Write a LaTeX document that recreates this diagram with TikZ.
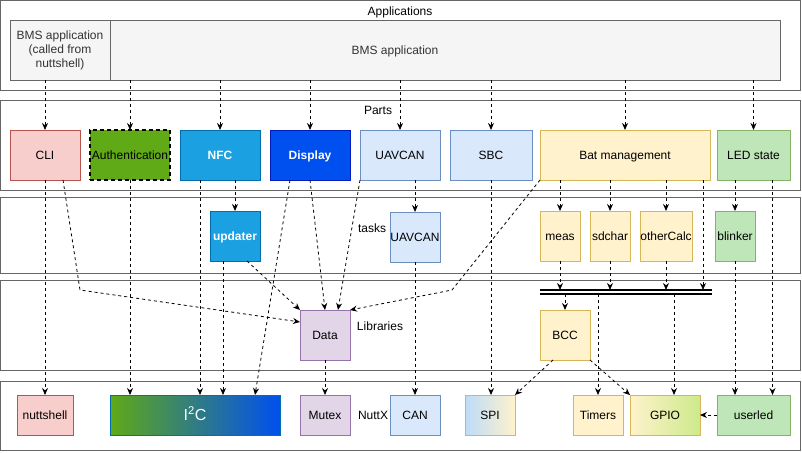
\documentclass[tikz,border=0pt]{standalone}
\usepackage{fontspec}
\setmainfont{Liberation Sans}
\usetikzlibrary{arrows.meta,
positioning,
shapes}

\definecolor{layerd}{HTML}{666666}
\definecolor{grayf}{HTML}{F5F5F5}
\definecolor{grayt}{HTML}{333333}
\definecolor{redf}{HTML}{F8CECC}
\definecolor{redd}{HTML}{B85450}
\definecolor{authf}{HTML}{60A917}
\definecolor{nfcf}{HTML}{1BA1E2}
\definecolor{nfcd}{HTML}{006EAF}
\definecolor{dispf}{HTML}{0050EF}
\definecolor{dispd}{HTML}{001DBC}
\definecolor{bluef}{HTML}{DAE8FC}
\definecolor{blued}{HTML}{6C8EBF}
\definecolor{yelf}{HTML}{FFF2CC}
\definecolor{yeld}{HTML}{D6B656}
\definecolor{grnf}{HTML}{BFE6B8}
\definecolor{grnd}{HTML}{82B366}
\definecolor{purf}{HTML}{E1D5E7}
\definecolor{purd}{HTML}{9673A6}
\definecolor{spif}{HTML}{BDDCF8}
\definecolor{gpiof}{HTML}{CDEA8A}

\begin{document}
\begin{tikzpicture}[
				x=1pt, y=-1pt,
				every node/.style={font=\fontsize{12}{14}\selectfont, inner sep=0pt, outer sep=0pt, text height=10pt, text depth=1.4pt},
				layer/.style={draw=layerd, line width=0.8pt},
				box/.style={draw, line width=0.8pt, minimum width=50pt, minimum height=50pt, align=center},
				graybox/.style={box, draw=layerd, fill=grayf, text=grayt, minimum height=60pt, text height=, text depth=},
				redbox/.style={box, draw=redd, fill=redf},
				authbox/.style={box, draw=black, fill=authf, line width=2pt, dash pattern=on 4pt off 3pt},
				nfcbox/.style={box, draw=nfcd, fill=nfcf, text=white, font=\fontsize{12}{14}\selectfont\bfseries},
				dispbox/.style={box, draw=dispd, fill=dispf, text=white, font=\fontsize{12}{14}\selectfont\bfseries},
				bluebox/.style={box, draw=blued, fill=bluef},
				yelbox/.style={box, draw=yeld, fill=yelf},
				grnbox/.style={box, draw=grnd, fill=grnf},
				purbox/.style={box, draw=purd, fill=purf},
				link/.style={-{Stealth[length=7pt,width=6pt]}, dash pattern=on 3pt off 3pt, line width=0.8pt}
			]
				\useasboundingbox (0,0) rectangle (802,452);
				\draw[layer] (0,0) rectangle (800,90);
				\draw[layer] (0,100) rectangle (800,190);
				\draw[layer] (0,197) rectangle (800,273);
				\draw[layer] (0,280) rectangle (800,370);
				\draw[layer] (0,381) rectangle (800,450);
				\node [] (applbl) at (400,11) {Applications};
				\node [] (partslbl) at (378,110) {Parts};
				\node [] (taskslbl) at (372,228) {tasks};
				\node [] (libslbl) at (380,326) {Libraries};
				\node [] (nuttxlbl) at (373,415) {NuttX};
				\node [graybox, minimum width=100pt] (appnsh) at (60,50) {BMS application\\(called from\\nuttshell)};
				\node [graybox, minimum width=670pt, label={[text=grayt, xshift=-50pt]center:BMS application}] (app) at (445,50) {};
				\node [redbox, minimum width=70pt] (cli) at (45,155) {CLI};
				\node [authbox, minimum width=80pt, right=10pt of cli] (auth) {Authentication};
				\node [nfcbox, minimum width=80pt, right=10pt of auth] (nfc) {NFC};
				\node [dispbox, minimum width=80pt, right=10pt of nfc] (disp) {Display};
				\node [bluebox, minimum width=80pt, right=10pt of disp] (uavcan) {UAVCAN};
				\node [bluebox, minimum width=82pt, right=10pt of uavcan] (sbc) {SBC};
				\node [yelbox, minimum width=170pt, right=8pt of sbc] (bat) {Bat management};
				\node [grnbox, minimum width=73pt, right=7pt of bat] (led) {LED state};
				\node [nfcbox] (updater) at (235,236) {updater};
				\node [bluebox] (uavcant) at (415,237) {UAVCAN};
				\node [yelbox, minimum width=40pt] (meas) at (560,236) {meas};
				\node [yelbox, minimum width=40pt, right=10pt of meas] (sdchar) {sdchar};
				\node [yelbox, minimum width=52pt, right=10pt of sdchar] (other) {otherCalc};
				\node [grnbox, minimum width=40pt, right=23pt of other] (blinker) {blinker};
				\node [purbox] (data) at (325,335) {Data};
				\node [yelbox] (bcc) at (565,335) {BCC};
				\node [minimum width=172pt, minimum height=4pt, text height=, text depth=] (bus) at (626,292) {};
				\draw[line width=1.2pt] (bus.north west) -- (bus.north east) (bus.south west) -- (bus.south east);
				\node [redbox, minimum width=56pt, minimum height=40pt] (nsh) at (45,415) {nuttshell};
				\node [box, draw=nfcd, left color=authf, right color=dispf, text=white, minimum width=170pt, minimum height=40pt, font=\fontsize{16}{18}\selectfont, text height=13pt, text depth=1.5pt] (i2c) at (195,415) {I\textsuperscript{2}C};
				\node [purbox, minimum height=40pt] (mutex) at (325,415) {Mutex};
				\node [bluebox, minimum height=40pt] (can) at (415,415) {CAN};
				\node [box, draw=yeld, left color=spif, right color=yelf, minimum height=40pt] (spi) at (490,415) {SPI};
				\node [yelbox, minimum height=40pt] (timers) at (598,415) {Timers};
				\node [box, draw=yeld, left color=yelf, right color=gpiof, minimum width=70pt, minimum height=40pt, right=7pt of timers] (gpio) {GPIO};
				\node [grnbox, minimum width=73pt, minimum height=40pt, right=17pt of gpio] (userled) {userled};
				\path[link]
					(appnsh.south -| cli.north) edge (cli.north);
				\foreach \n in {auth,nfc,disp,uavcan,sbc,bat,led}
					\path[link] (app.south -| \n.north) edge (\n.north);
				\path[link]
					(nfc.south -| updater.north) edge (updater.north)
					(uavcan.south -| uavcant.north) edge (uavcant.north)
					(bat.south -| meas.north) edge (meas.north)
					(bat.south -| sdchar.north) edge (sdchar.north)
					(bat.south -| other.north) edge (other.north)
					(led.south -| blinker.north) edge (blinker.north);
				\path[link]
					(meas.south) edge (meas.south |- bus.north)
					(sdchar.south) edge (sdchar.south |- bus.north)
					(other.south) edge (other.south |- bus.north)
					([xshift=-7pt]bat.south east) edge ([xshift=-7pt]bat.south east |- bus.north)
					(bus.south -| bcc.north) edge (bcc.north)
					(bus.south -| timers.north) edge (timers.north)
					([xshift=9pt]bus.south -| gpio.north) edge ([xshift=9pt]gpio.north);
				\path[link]
					(cli.south) edge (nsh.north)
					(auth.south) edge (auth.south |- i2c.north)
					([xshift=-20pt]nfc.south) edge ([xshift=-20pt]nfc.south |- i2c.north)
					([xshift=-12pt]updater.south) edge ([xshift=-12pt]updater.south |- i2c.north)
					([xshift=-20pt]disp.south) edge ([xshift=60pt]i2c.north)
					(disp.south) edge (data.north)
					(uavcan.south west) edge ([xshift=13pt]data.north)
					([xshift=12pt]updater.south) edge (data.north west)
					(data.south) edge (mutex.north)
					(uavcant.south) edge (can.north)
					(sbc.south) edge (sbc.south |- spi.north)
					([xshift=-12pt]bcc.south) edge (spi.north east)
					(bcc.south east) edge (gpio.north west)
					(blinker.south) edge (blinker.south |- userled.north)
					([xshift=19pt]led.south) edge ([xshift=19pt]led.south |- userled.north)
					(userled.west) edge (gpio.east);
				\coordinate (clibend) at (80,290);
				\coordinate (batbend) at (452,290);
				\draw[link] ([xshift=18pt]cli.south) -- (clibend) -- ([yshift=13pt]data.west);
				\draw[link] (bat.south west) -- (batbend) -- (data.north east);
			\end{tikzpicture}
\end{document}
